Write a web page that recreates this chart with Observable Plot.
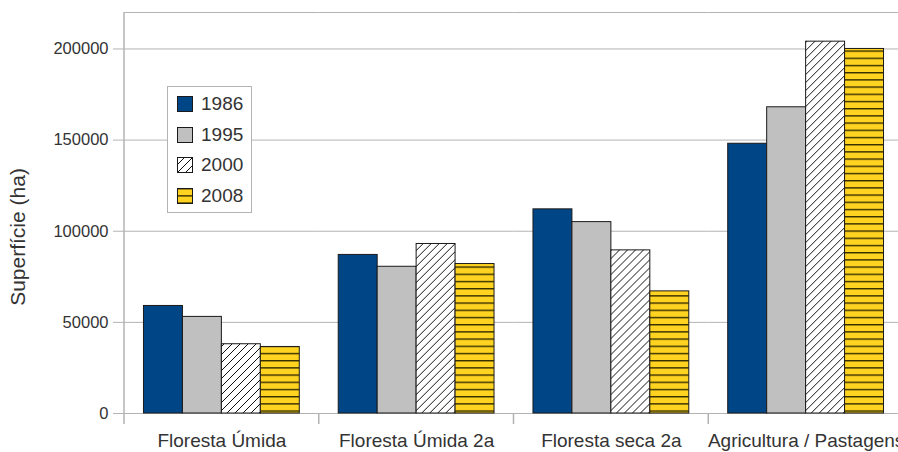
<!DOCTYPE html>
<html>
<head>
<meta charset="utf-8">
<script src="https://cdn.jsdelivr.net/npm/d3@7"></script>
<script src="https://cdn.jsdelivr.net/npm/@observablehq/plot@0.6"></script>
<style>
  html, body { margin: 0; padding: 0; background: white; }
  #wrap { position: relative; width: 898px; height: 452px; overflow: hidden; font-family: 'Liberation Sans', Arial, sans-serif; }
  #legend { position: absolute; left: 167px; top: 86px; width: 83px; height: 125px; border: 1px solid #b3b3b3; background: white; }
  .lrow { position: absolute; left: 9px; height: 20px; display: flex; align-items: center; }
  .lrow span { margin-left: 8px; font-size: 19px; color: #333; line-height: 20px; }
</style>
</head>
<body>
<svg width="0" height="0" style="position:absolute">
  <defs>
    <pattern id="hatch" patternUnits="userSpaceOnUse" width="8" height="8">
      <rect width="8" height="8" fill="white"/>
      <path d="M-2,2 L2,-2 M0,8 L8,0 M6,10 L10,6" stroke="#111" stroke-width="1"/>
    </pattern>
    <pattern id="stripes" patternUnits="userSpaceOnUse" width="8" height="7.2">
      <rect width="8" height="7.2" fill="#ffd320"/>
      <line x1="0" x2="8" y1="0.7" y2="0.7" stroke="#332c00" stroke-width="1.4"/>
    </pattern>
  </defs>
</svg>
<div id="wrap"><div id="legend"></div></div>
<script>
const categories = ["Floresta Úmida", "Floresta Úmida 2a", "Floresta seca 2a", "Agricultura / Pastagens"];
const years = ["1986", "1995", "2000", "2008"];
const v1986 = [59000, 87000, 112000, 148000];
const v1995 = [53000, 80500, 105000, 168000];
const v2000 = [38000, 93000, 89500, 204000];
const v2008 = [36500, 82000, 67000, 200000];
const yTicks = [0, 50000, 100000, 150000, 200000];
const yMax = 220000;
const fills = ["#004586", "#c0c0c0", "url(#hatch)", "url(#stripes)"];
const yLabel = "Superfície (ha)";

const series = [v1986, v1995, v2000, v2008];
const rows = [];
categories.forEach((c, i) => years.forEach((y, j) => rows.push({category: c, year: y, value: series[j][i]})));

const chart = Plot.plot({
  width: 898, height: 452,
  marginLeft: 124, marginRight: -5, marginTop: 12, marginBottom: 39,
  style: {fontFamily: "'Liberation Sans', Arial, sans-serif", color: "#333", background: "white", overflow: "visible"},
  fx: {domain: categories, padding: 0, round: false, label: null},
  x: {domain: years, paddingInner: 0, paddingOuter: 0.5, round: false, axis: null},
  y: {domain: [0, yMax], label: null},
  color: {type: "ordinal", domain: years, range: fills},
  marks: [
    Plot.gridY([...yTicks, yMax], {stroke: "#b3b3b3", strokeOpacity: 1}),
    Plot.barY(rows, {fx: "category", x: "year", y: "value", fill: "year", stroke: "#1a1a1a", strokeWidth: 1}),
    Plot.axisY(yTicks, {tickSize: 11, tickPadding: 5, fontSize: 16.5, stroke: "#b3b3b3", label: null, tickFormat: "d"}),
    Plot.axisFx({anchor: "bottom", tickSize: 0, tickPadding: 20, fontSize: 19, label: null}),
    Plot.text([yLabel], {fx: () => categories[0], frameAnchor: "left", textAnchor: "middle", rotate: -90, dx: -106, dy: 24, fontSize: 21, fill: "#333"})
  ]
});

// axis line and category boundary ticks, positioned from Plot's own scales
const fx = chart.scale("fx");
const ys = chart.scale("y");
const yS = d3.scaleLinear(ys.domain, ys.range);
const svg = d3.select(chart);
const g = svg.append("g").attr("stroke", "#b3b3b3").attr("stroke-width", 1.5);
const x0 = fx.range[0];
g.append("line").attr("x1", x0).attr("x2", x0).attr("y1", yS(yMax)).attr("y2", yS(0) + 11);
categories.forEach((c, i) => {
  if (i === 0) return;
  const bx = fx.range[0] + i * fx.step;
  g.append("line").attr("x1", bx).attr("x2", bx).attr("y1", yS(0)).attr("y2", yS(0) + 11);
});

const wrap = document.getElementById("wrap");
wrap.insertBefore(chart, wrap.firstChild);

const legend = d3.select("#legend");
const rowTops = [7, 38, 68, 99];
years.forEach((y, i) => {
  const r = legend.append("div").attr("class", "lrow").style("top", rowTops[i] + "px");
  const s = r.append("svg").attr("width", 16).attr("height", 16);
  s.append("rect").attr("x", 0.5).attr("y", 0.5).attr("width", 15).attr("height", 15)
    .attr("fill", fills[i]).attr("stroke", "#1a1a1a").attr("stroke-width", 1);
  r.append("span").text(y);
});
</script>
</body>
</html>
